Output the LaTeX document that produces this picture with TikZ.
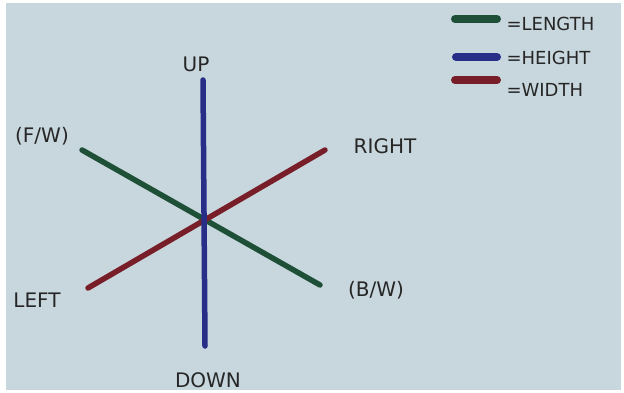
\documentclass[tikz,border=0pt]{standalone}
\usepackage{fontspec}
\setsansfont{DejaVu Sans}
\definecolor{paper}{RGB}{200,215,221}
\definecolor{lengthgreen}{RGB}{30,80,55}
\definecolor{heightblue}{RGB}{40,45,135}
\definecolor{widthred}{RGB}{120,30,40}
\tikzset{
  axis/.style={line width=5.5pt, line cap=round},
  key/.style={line width=8pt, line cap=round},
  lbl/.style={font=\sffamily\fontsize{20}{22}\selectfont, text=black!85},
  keylbl/.style={lbl, anchor=west, font=\sffamily\fontsize{18}{20}\selectfont}
}
\begin{document}
\begin{tikzpicture}[x=1pt, y=-1pt]
            \useasboundingbox (0,0) rectangle (624,393);
            \fill[white] (0,0) rectangle (624,393);
            \fill[paper] (6,3) rectangle (621,390);
            % define point
            \coordinate (U)  at (203, 80);
            \coordinate (D)  at (205, 346);
            \coordinate (FW) at (82, 150);
            \coordinate (BW) at (320, 285);
            \coordinate (L)  at (88, 288);
            \coordinate (R)  at (325, 150);
            % axes
            \draw[axis, lengthgreen] (FW) -- (BW);
            \draw[axis, widthred] (L) -- (R);
            \draw[axis, heightblue] (U) -- (D);
            % labels
            \node[lbl] (up)    at (196, 64)  {UP};
            \node[lbl] (down)  at (208, 380) {DOWN};
            \node[lbl] (fw)    at (42, 136)  {(F/W)};
            \node[lbl] (bw)    at (376, 290) {(B/W)};
            \node[lbl] (right) at (385, 146) {RIGHT};
            \node[lbl] (left)  at (37, 300)  {LEFT};
            % key
            \coordinate (g1) at (455, 19);  \coordinate (g2) at (497, 19);
            \coordinate (b1) at (456, 57);  \coordinate (b2) at (497, 57);
            \coordinate (r1) at (455, 80);  \coordinate (r2) at (497, 80);
            \draw[key, lengthgreen] (g1) -- (g2);
            \draw[key, heightblue] (b1) -- (b2);
            \draw[key, widthred] (r1) -- (r2);
            \node[keylbl] (klength) at (503, 24) {=LENGTH};
            \node[keylbl] (kheight) at (503, 58) {=HEIGHT};
            \node[keylbl] (kwidth)  at (503, 90) {=WIDTH};
\end{tikzpicture}
\end{document}
